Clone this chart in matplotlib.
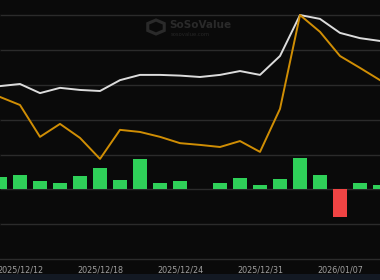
import matplotlib
matplotlib.use("Agg")
import matplotlib.pyplot as plt
from matplotlib.patches import RegularPolygon, Rectangle

# trading days, 2025/12/11 .. 2026/01/09
dates = ["2025/12/11", "2025/12/12", "2025/12/15", "2025/12/16", "2025/12/17",
         "2025/12/18", "2025/12/19", "2025/12/22", "2025/12/23", "2025/12/24",
         "2025/12/26", "2025/12/29", "2025/12/30", "2025/12/31", "2026/01/02",
         "2026/01/05", "2026/01/06", "2026/01/07", "2026/01/08", "2026/01/09"]
shown_dates = ["2025/12/12", "2025/12/18", "2025/12/24", "2025/12/31", "2026/01/07"]

# daily net inflow (bars)
daily_flow = [69, 80, 46, 34, 74, 120, 51, 177, 34, 46,
              0, 34, 63, 23, 57, 183, 80, -160, 34, 23]
# line series (right scale)
net_assets = [4.94, 5.00, 4.74, 4.89, 4.83, 4.80, 5.11, 5.26, 5.26, 5.24,
              5.20, 5.26, 5.37, 5.26, 5.80, 6.97, 6.86, 6.46, 6.31, 6.23]
cum_inflow = [4.63, 4.40, 3.49, 3.86, 3.46, 2.86, 3.69, 3.63, 3.49, 3.31,
              3.26, 3.20, 3.37, 3.06, 4.29, 6.97, 6.49, 5.80, 5.46, 5.11]

BG = "#0a0a0a"
GRID = "#2b2b2b"

fig = plt.figure(figsize=(3.8, 2.8), dpi=100, facecolor=BG)
ax = fig.add_axes([0, 21 / 280, 1, 259 / 280])
ax.set_facecolor(BG)

x = list(range(len(dates)))
colors = ["#2fd159" if v >= 0 else "#f04444" for v in daily_flow]
ax.bar(x, daily_flow, width=0.7, color=colors, zorder=2)

ax.set_xlim(0, len(dates) - 1)
ax.set_ylim(-400, 1088)
ax.set_yticks([-200, 0, 200, 400, 600, 800, 1000])
ax.yaxis.grid(True, color=GRID, linewidth=1.0, zorder=0)
ax.tick_params(axis="y", left=False, labelleft=False)
ax.set_xticks([dates.index(d) for d in shown_dates])
ax.set_xticklabels(shown_dates, fontsize=5.8, color="#a0a0a0")
ax.tick_params(axis="x", length=0, pad=4.5)
for side in ["top", "left", "right"]:
    ax.spines[side].set_visible(False)
ax.spines["bottom"].set_color(GRID)
ax.spines["bottom"].set_linewidth(1.0)
ax.set_axisbelow(True)

ax2 = ax.twinx()
ax2.set_ylim(0, 7.4)
ax2.plot(x, net_assets, color="#dcdcdc", linewidth=1.4, zorder=3)
ax2.plot(x, cum_inflow, color="#d08e04", linewidth=1.4, zorder=4)
ax2.axis("off")

# watermark
fig.patches.append(RegularPolygon((156 / 380, 1 - 27 / 280), numVertices=6, radius=0.025,
                                  transform=fig.transFigure, fill=False,
                                  edgecolor="#2a2a2a", linewidth=2.2))
fig.text(169 / 380, 1 - 25 / 280, "SoSoValue", fontsize=7.5, fontweight="bold",
         color="#2a2a2a", ha="left", va="center")
fig.text(171 / 380, 1 - 34 / 280, "sosovalue.com", fontsize=3.8,
         color="#262626", ha="left", va="center")

# navigator strip at the bottom
fig.patches.append(Rectangle((0, 0), 1, 6 / 280, transform=fig.transFigure,
                             facecolor="#131923", edgecolor="none"))

fig.savefig("out.png", dpi=100, facecolor=BG)
